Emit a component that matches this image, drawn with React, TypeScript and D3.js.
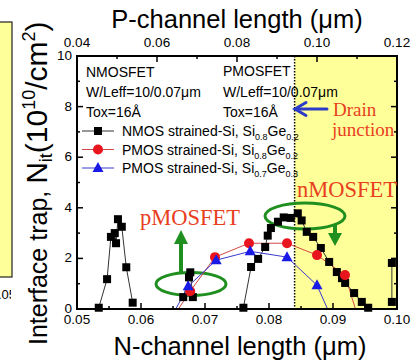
import React from 'react';
import * as d3 from 'd3';

// N-channel length (um) vs interface trap (1e10/cm2)
const nmosLeft = [[0.0534, 0.05], [0.0547, 1.18], [0.0553, 2.85], [0.0559, 3.0], [0.0561, 2.6], [0.0564, 3.55], [0.057, 3.25], [0.0577, 1.65], [0.0587, 0.25]];
const nmosMid = [[0.0666, 0.47], [0.0675, 1.25], [0.0677, 1.45], [0.0681, 0.47]];
const nmosRight = [[0.076, 0.05], [0.0772, 1.66], [0.0783, 1.98], [0.0794, 2.45], [0.0798, 2.9], [0.0803, 3.2], [0.0814, 3.45], [0.0823, 3.62], [0.0834, 3.6], [0.0845, 3.78], [0.0851, 3.5], [0.0859, 3.05], [0.0869, 2.85], [0.0881, 2.41], [0.0894, 1.86], [0.0906, 1.46], [0.0914, 1.22], [0.0919, 1.03], [0.0933, 0.63], [0.0945, 0.28], [0.0955, 0.05]];
const nmosEdge = [[0.0992, 1.82], [0.0992, 0.28]];

// P-channel length (um), top axis
const pmos82 = [[0.0645, -0.2], [0.0683, 0.7], [0.0745, 2.05], [0.083, 2.6], [0.0925, 2.6], [0.1, 2.13], [0.107, 1.34], [0.11, -0.2]];
const pmos73 = [[0.064, -0.2], [0.0678, 0.9], [0.0748, 1.93], [0.0833, 2.28], [0.0925, 2.05], [0.1, 0.94], [0.1032, -0.2]];

const nTicks = [0.05, 0.06, 0.07, 0.08, 0.09, 0.1];
const pTicks = [0.04, 0.06, 0.08, 0.1, 0.12];
const yTicks = [0, 2, 4, 6, 8, 10];
const drainJunction = 0.084;

const legendRows = [
  { kind: 'square', color: '#000', line: '#333', a: 'NMOS strained-Si, Si', s1: '0.8', s2: '0.2' },
  { kind: 'circle', color: '#e8141e', line: '#d04848', a: 'PMOS strained-Si, Si', s1: '0.8', s2: '0.2' },
  { kind: 'triangle', color: '#1a1ae6', line: '#3a3ad0', a: 'PMOS strained-Si, Si', s1: '0.7', s2: '0.3' },
];

const L = 77, R = 397, T = 56, B = 309;
const sans = '"Liberation Sans", Arial, sans-serif';
const serif = '"Liberation Serif", "Times New Roman", serif';
const red = '#e8401e';
const green = '#1f8f1f';

const Marker = ({ kind, x, y, color }) => {
  if (kind === 'square') return <rect x={x - 4} y={y - 4} width={8} height={8} fill={color} />;
  if (kind === 'circle') return <circle cx={x} cy={y} r={5} fill={color} />;
  return <path d={`M${x},${y - 6}L${x + 5.5},${y + 4}L${x - 5.5},${y + 4}Z`} fill={color} />;
};

export default function App() {
  const xN = d3.scaleLinear().domain([0.05, 0.1]).range([L, R]);
  const xP = d3.scaleLinear().domain([0.04, 0.12]).range([L, R]);
  const y = d3.scaleLinear().domain([0, 10]).range([B, T]);
  const f2 = d3.format('.2f');

  const lineN = d3.line().x(d => xN(d[0])).y(d => y(d[1]));
  const lineP = d3.line().x(d => xP(d[0])).y(d => y(d[1]));
  const nSegs = [nmosLeft, nmosMid, nmosRight, nmosEdge];
  const xj = xN(drainJunction);

  return (
    <>
      <style>{'body{margin:0}'}</style>
      <svg width={417} height={362} style={{ display: 'block', background: '#fff' }}>
        <defs>
          <clipPath id="plot"><rect x={L} y={T} width={R - L} height={B - T} /></clipPath>
          <clipPath id="edge"><rect x={0} y={0} width={11} height={362} /></clipPath>
        </defs>

        {/* neighbouring panel, cut off */}
        <rect x={-2} y={22} width={14} height={255} fill="#ffff99" stroke="#222" strokeWidth={1.2} />
        <text x={16} y={299} textAnchor="end" fontFamily={sans} fontSize={13} clipPath="url(#edge)">0.05</text>

        <rect x={xj} y={T} width={R - xj} height={B - T} fill="#ffff99" />
        <line x1={xj} x2={xj} y1={T} y2={B} stroke="#000" strokeWidth={1.5} strokeDasharray="1.5,1.5" />

        <ellipse cx={191} cy={284} rx={35} ry={11.5} fill="none" stroke={green} strokeWidth={3} />
        <ellipse cx={305} cy={216} rx={40} ry={13} fill="none" stroke={green} strokeWidth={3} />

        <g clipPath="url(#plot)" fill="none" strokeWidth={1}>
          {nSegs.map((s, i) => <path key={i} d={lineN(s)} stroke="#333" />)}
          <path d={lineP(pmos82)} stroke="#d04848" />
          <path d={lineP(pmos73)} stroke="#3a3ad0" />
        </g>
        {nSegs.flat().map((d, i) => <Marker key={'n' + i} kind="square" x={xN(d[0])} y={y(d[1])} color="#000" />)}
        {pmos82.filter(d => d[1] > 0).map((d, i) => <Marker key={'r' + i} kind="circle" x={xP(d[0])} y={y(d[1])} color="#e8141e" />)}
        {pmos73.filter(d => d[1] > 0).map((d, i) => <Marker key={'b' + i} kind="triangle" x={xP(d[0])} y={y(d[1])} color="#1a1ae6" />)}

        {/* frame and ticks */}
        <rect x={L} y={T} width={R - L} height={B - T} fill="none" stroke="#000" strokeWidth={2} />
        <g stroke="#000" strokeWidth={1.5}>
          {xN.ticks(10).map(t => {
            const big = nTicks.some(v => Math.abs(v - t) < 1e-9);
            return <line key={'bt' + t} x1={xN(t)} x2={xN(t)} y1={B} y2={B - (big ? 6 : 3)} />;
          })}
          {xP.ticks(8).map(t => {
            const big = pTicks.some(v => Math.abs(v - t) < 1e-9);
            return <line key={'tt' + t} x1={xP(t)} x2={xP(t)} y1={T} y2={T + (big ? 6 : 3)} />;
          })}
          {y.ticks(10).map(t => {
            const big = yTicks.includes(t);
            return (
              <g key={'yt' + t}>
                <line x1={L} x2={L + (big ? 6 : 3)} y1={y(t)} y2={y(t)} />
                <line x1={R} x2={R - (big ? 6 : 3)} y1={y(t)} y2={y(t)} />
              </g>
            );
          })}
        </g>

        <g fontFamily={sans} fontSize={13.5} fill="#000">
          {nTicks.map(t => <text key={'bl' + t} x={xN(t)} y={324} textAnchor="middle">{f2(t)}</text>)}
          {pTicks.map(t => <text key={'tl' + t} x={xP(t)} y={47} textAnchor="middle">{f2(t)}</text>)}
          {yTicks.map(t => <text key={'yl' + t} x={72} y={y(t)} dy="0.3em" textAnchor="end">{t}</text>)}
        </g>

        {/* axis titles */}
        <text x={237} y={28} textAnchor="middle" fontFamily={sans} fontSize={25.5}>P-channel length (μm)</text>
        <text x={240} y={355} textAnchor="middle" fontFamily={sans} fontSize={25.5}>N-channel length (μm)</text>
        <text transform="translate(47,345) rotate(-90)" fontFamily={sans} fontSize={30}>
          <tspan fontSize={25}>Interface trap, </tspan>
          <tspan>N</tspan>
          <tspan fontSize={18} dy={5}>it</tspan>
          <tspan dy={-5}>(10</tspan>
          <tspan fontSize={18} dy={-12}>10</tspan>
          <tspan dy={12}>/cm</tspan>
          <tspan fontSize={18} dy={-12}>2</tspan>
          <tspan dy={12}>)</tspan>
        </text>

        {/* device notes */}
        <g fontFamily={sans} fontSize={14}>
          <text x={86} y={77}>NMOSFET</text>
          <text x={86} y={97}>W/Leff=10/0.07μm</text>
          <text x={86} y={117}>Tox=16Å</text>
          <text x={223} y={76}>PMOSFET</text>
          <text x={223} y={97}>W/Leff=10/0.07μm</text>
          <text x={223} y={117}>Tox=16Å</text>
        </g>

        {/* legend */}
        {legendRows.map((r, i) => {
          const by = 136 + i * 18.5;
          return (
            <g key={'lg' + i}>
              <line x1={82} x2={114} y1={by - 5} y2={by - 5} stroke={r.line} strokeWidth={1} />
              <Marker kind={r.kind} x={98} y={by - 5} color={r.color} />
              <text x={122} y={by} fontFamily={sans} fontSize={14}>
                {r.a}
                <tspan fontSize={9} dy={4}>{r.s1}</tspan>
                <tspan dy={-4}>Ge</tspan>
                <tspan fontSize={9} dy={4}>{r.s2}</tspan>
              </text>
            </g>
          );
        })}

        {/* drain junction arrow */}
        <g stroke="#2c3cc8" strokeWidth={3} fill="none" strokeLinecap="round">
          <line x1={327} x2={296} y1={109} y2={109} />
          <path d="M306,102.5L295,109L306,115.5" />
        </g>
        <g fontFamily={serif} fontSize={19} fill={red}>
          <text x={333} y={116}>Drain</text>
          <text x={332} y={136}>junction</text>
        </g>
        <g fontFamily={serif} fontSize={22.5} fill={red}>
          <text x={297} y={197}>nMOSFET</text>
          <text x={140} y={225}>pMOSFET</text>
        </g>

        {/* green arrows */}
        <g fill={green} stroke={green}>
          <line x1={181} x2={181} y1={273} y2={242} strokeWidth={4} />
          <path d="M181,230L188,244L174,244Z" strokeWidth={0} />
          <line x1={335} x2={335} y1={224} y2={235} strokeWidth={4} />
          <path d="M335,246L342,233L328,233Z" strokeWidth={0} />
        </g>
      </svg>
    </>
  );
}
